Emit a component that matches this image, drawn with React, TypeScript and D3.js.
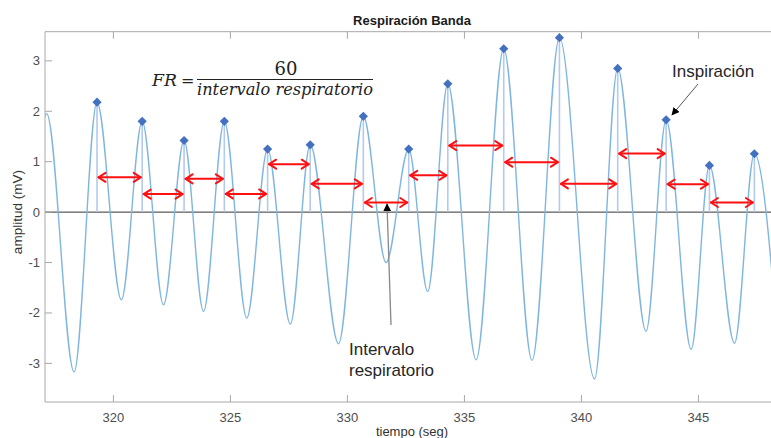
import React from "react";
import * as d3 from "d3";

// Peak (inspiration) times and amplitudes
const peakT = [319.3, 321.23, 323.02, 324.74, 326.59, 328.41, 330.68, 332.62, 334.29, 336.68, 339.06, 341.55, 343.62, 345.47, 347.39];
const peakV = [2.18, 1.8, 1.42, 1.8, 1.25, 1.335, 1.9, 1.25, 2.545, 3.24, 3.46, 2.85, 1.83, 0.925, 1.157];
// Trough times and amplitudes
const troughT = [318.32, 320.34, 322.14, 323.85, 325.7, 327.56, 329.62, 331.65, 333.43, 335.5, 337.89, 340.56, 342.76, 344.69, 346.54, 348.4];
const troughV = [-3.17, -1.74, -1.84, -1.97, -2.1, -2.22, -2.61, -1.0, -1.575, -2.93, -2.94, -3.31, -2.36, -2.72, -2.6, -2.6];
// Leading samples before the first marked peak
const leadT = [316.3, 317.15];
const leadV = [-2.5, 1.95];
// Height of each red interval arrow (between consecutive peaks)
const arrowV = [0.69, 0.357, 0.66, 0.36, 0.95, 0.56, 0.19, 0.73, 1.32, 0.99, 0.56, 1.16, 0.555, 0.19];

const xTicks = [320, 325, 330, 335, 340, 345];
const yTicks = [-3, -2, -1, 0, 1, 2, 3];

const W = 771, H = 438;
const L = 45, R = 778, T = 31.7, B = 402;

export default function App() {
  const x = d3.scaleLinear().domain([317.077, 348.4]).range([L, R]);
  const y = d3.scaleLinear().domain([-3.766, 3.578]).range([B, T]);

  const pts: [number, number][] = [];
  leadT.forEach((t, i) => pts.push([t, leadV[i]]));
  troughT.forEach((t, i) => {
    pts.push([t, troughV[i]]);
    if (i < peakT.length) pts.push([peakT[i], peakV[i]]);
  });
  const line = d3.line<[number, number]>().x(d => x(d[0])).y(d => y(d[1])).curve(d3.curveMonotoneX);

  const axisC = "#a8a8a8";
  const tickC = "#4d4d4d";
  const sans = "'Liberation Sans', Arial, sans-serif";
  const serif = "'DejaVu Serif', 'Liberation Serif', serif";

  const diamond = (cx: number, cy: number, r: number) =>
    `M${cx},${cy - r}L${cx + r},${cy}L${cx},${cy + r}L${cx - r},${cy}Z`;

  return (
    <svg width={W} height={H} style={{ position: "absolute", left: 0, top: 0, background: "#fff" }}>
      <defs>
        <clipPath id="plotclip">
          <rect x={L} y={T} width={R - L} height={B - T} />
        </clipPath>
        <marker id="blk" viewBox="0 0 10 10" refX="9" refY="5" markerWidth="8" markerHeight="8" markerUnits="userSpaceOnUse" orient="auto">
          <path d="M0,0L10,5L0,10Z" fill="#000" />
        </marker>
      </defs>
      {/* title */}
      <text x={412} y={25} textAnchor="middle" fontFamily={sans} fontWeight="bold" fontSize={13} fill="#1a1a1a">Respiración Banda</text>

      <g clipPath="url(#plotclip)">
        {/* zero line */}
        <line x1={L} x2={R} y1={y(0)} y2={y(0)} stroke="#333" strokeWidth={1} />
        {/* stems */}
        {peakT.map((t, i) => (
          <line key={"s" + i} x1={x(t)} x2={x(t)} y1={y(0)} y2={y(peakV[i])} stroke="#b4c9ee" strokeWidth={1.6} />
        ))}
        {/* signal */}
        <path d={line(pts) || ""} fill="none" stroke="#7fb6df" strokeWidth={1.4} />
        {/* diamonds */}
        {peakT.map((t, i) => (
          <path key={"d" + i} d={diamond(x(t), y(peakV[i]), 4.6)} fill="#4470c0" />
        ))}
        {/* red interval arrows */}
        {arrowV.map((v, i) => {
          const x1 = x(peakT[i]) + 1.5, x2 = x(peakT[i + 1]) - 1.5, yy = y(v);
          return (
            <g key={"a" + i} stroke="#ff1010" strokeWidth={2} fill="none" strokeLinecap="round" strokeLinejoin="round">
              <line x1={x1} x2={x2} y1={yy} y2={yy} />
              <path d={`M${x1 + 7},${yy - 4.5}L${x1},${yy}L${x1 + 7},${yy + 4.5}`} />
              <path d={`M${x2 - 7},${yy - 4.5}L${x2},${yy}L${x2 - 7},${yy + 4.5}`} />
            </g>
          );
        })}
      </g>

      {/* axes box */}
      <line x1={L} x2={L} y1={T} y2={B} stroke={axisC} />
      <line x1={L} x2={W} y1={T} y2={T} stroke={axisC} />
      <line x1={L} x2={W} y1={B} y2={B} stroke={axisC} />
      {xTicks.map(t => (
        <g key={"xt" + t}>
          <line x1={x(t)} x2={x(t)} y1={B} y2={B - 7} stroke={axisC} />
          <line x1={x(t)} x2={x(t)} y1={T} y2={T + 7} stroke={axisC} />
          <text x={x(t)} y={422} textAnchor="middle" fontFamily={sans} fontSize={13} fill={tickC}>{t}</text>
        </g>
      ))}
      {yTicks.map(t => (
        <g key={"yt" + t}>
          <line x1={L} x2={L + 7} y1={y(t)} y2={y(t)} stroke={axisC} />
          <text x={40} y={y(t) + 4.5} textAnchor="end" fontFamily={sans} fontSize={13} fill={tickC}>{t}</text>
        </g>
      ))}
      <text x={412} y={436} textAnchor="middle" fontFamily={sans} fontSize={13} fill="#333">tiempo (seg)</text>
      <text transform={`translate(22,${y(0)}) rotate(-90)`} textAnchor="middle" fontFamily={sans} fontSize={13.5} fill="#333">amplitud (mV)</text>

      {/* formula */}
      <text x={152} y={86} fontFamily={serif} fontSize={17} fill="#222" fontStyle="italic" textLength={25} lengthAdjust="spacingAndGlyphs">FR</text>
      <text x={181} y={86} fontFamily={serif} fontSize={16} fill="#222">=</text>
      <line x1={197} x2={373} y1={79.5} y2={79.5} stroke="#222" strokeWidth={1.2} />
      <text x={286} y={75} textAnchor="middle" fontFamily={serif} fontSize={18} fill="#222">60</text>
      <text x={197} y={95} fontFamily={serif} fontStyle="italic" fontSize={16} fill="#222" textLength={176} lengthAdjust="spacingAndGlyphs">intervalo respiratorio</text>

      {/* annotations */}
      <line x1={391} y1={325} x2={387} y2={204} stroke="#888" strokeWidth={1.3} markerEnd="url(#blk)" />
      <text fontFamily={sans} fontSize={17} fill="#262626">
        <tspan x={349} y={355}>Intervalo</tspan>
        <tspan x={349} y={376}>respiratorio</tspan>
      </text>
      <text x={672} y={77} fontFamily={sans} fontSize={17} fill="#262626">Inspiración</text>
      <line x1={698} y1={84} x2={672} y2={115} stroke="#555" strokeWidth={1} markerEnd="url(#blk)" />
    </svg>
  );
}
